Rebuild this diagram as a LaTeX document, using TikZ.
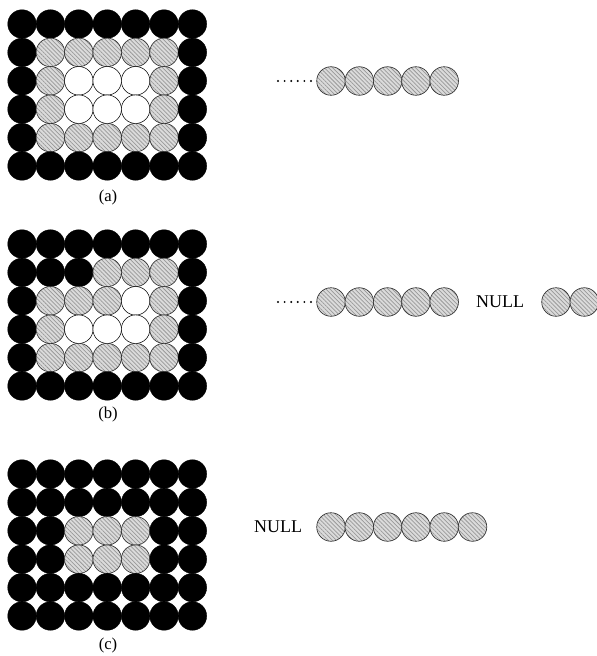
\documentclass[tikz,border=0pt]{standalone}
\usepackage{fontspec}
\setmainfont{Liberation Serif}
\usetikzlibrary{patterns,patterns.meta}
\begin{document}
\begin{tikzpicture}[x=0.75pt,y=-0.75pt,
  cellbase/.style={circle,inner sep=0pt,minimum size=21.4pt},
  cellK/.style={cellbase,fill=black,draw=black,line width=0.3pt},
  cellH/.style={cellbase,draw=black!80,line width=0.5pt,
     preaction={fill=gray!28},pattern={Lines[angle=-45,distance=2.2pt,line width=0.55pt]},pattern color=gray!80},
  cellW/.style={cellbase,draw=black,line width=0.4pt,fill=white},
  lbl/.style={font=\fontsize{12.5pt}{14pt}\selectfont,inner sep=0pt},
  nulltxt/.style={font=\fontsize{13.5pt}{16pt}\selectfont,inner sep=0pt},
  dotmark/.style={circle,fill=black,inner sep=0pt,minimum size=1.6pt}]
\useasboundingbox (0,0) rectangle (596,656);
% grid (a)
\foreach \r/\lst in {0/{K,K,K,K,K,K,K},1/{K,H,H,H,H,H,K},2/{K,H,W,W,W,H,K},3/{K,H,W,W,W,H,K},4/{K,H,H,H,H,H,K},5/{K,K,K,K,K,K,K}}{
  \foreach \t [count=\c from 0] in \lst {
    \node[cell\t] (a-\r-\c) at ({22+28.4*\c},{24+28.4*\r}) {};
  }
}
\node[lbl] (la) at (108,197) {(a)};
% grid (b)
\foreach \r/\lst in {0/{K,K,K,K,K,K,K},1/{K,K,K,H,H,H,K},2/{K,H,H,H,W,H,K},3/{K,H,W,W,W,H,K},4/{K,H,H,H,H,H,K},5/{K,K,K,K,K,K,K}}{
  \foreach \t [count=\c from 0] in \lst {
    \node[cell\t] (b-\r-\c) at ({22+28.4*\c},{244+28.4*\r}) {};
  }
}
\node[lbl] (lb) at (108,414) {(b)};
% grid (c)
\foreach \r/\lst in {0/{K,K,K,K,K,K,K},1/{K,K,K,K,K,K,K},2/{K,K,H,H,H,K,K},3/{K,K,H,H,H,K,K},4/{K,K,K,K,K,K,K},5/{K,K,K,K,K,K,K}}{
  \foreach \t [count=\c from 0] in \lst {
    \node[cell\t] (c-\r-\c) at ({22+28.4*\c},{474+28.4*\r}) {};
  }
}
\node[lbl] (lc) at (108,645) {(c)};
% chain (a)
\foreach \i in {0,...,5}{\node[dotmark] (da\i) at ({278+6.6*\i},81) {};}
\foreach \i in {0,...,4}{\node[cellH] (ka\i) at ({331+28.3*\i},81) {};}
% chain (b)
\foreach \i in {0,...,5}{\node[dotmark] (db\i) at ({278+6.6*\i},302) {};}
\foreach \i in {0,...,4}{\node[cellH] (kb\i) at ({331+28.3*\i},302) {};}
\node[nulltxt] (nb) at (500,302) {NULL};
\foreach \i in {0,1}{\node[cellH] (kbb\i) at ({556+28.3*\i},302) {};}
% chain (c)
\node[nulltxt] (nc) at (278,527) {NULL};
\foreach \i in {0,...,5}{\node[cellH] (kc\i) at ({331+28.3*\i},527) {};}
\end{tikzpicture}
\end{document}
